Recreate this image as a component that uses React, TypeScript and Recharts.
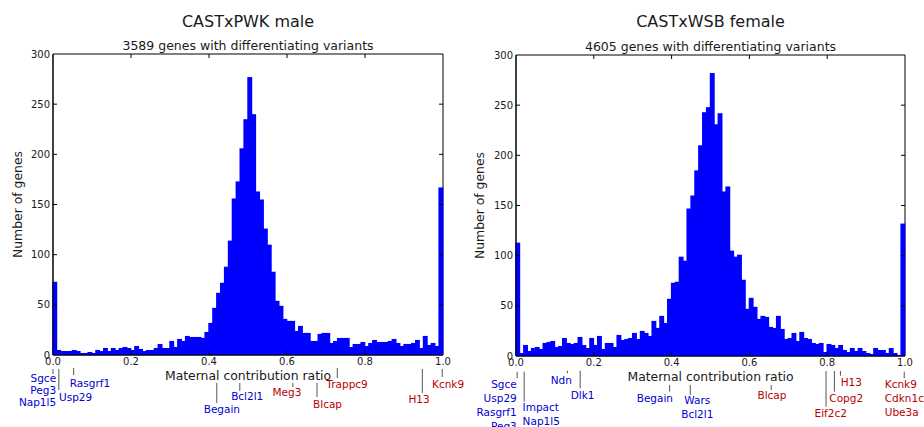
import React from "react";
import { Bar, ComposedChart, ReferenceArea, ReferenceDot, ReferenceLine, XAxis, YAxis } from "recharts";

// counts per 0.01 bin of maternal contribution ratio (0.00 .. 0.99)
const PWK_MALE_COUNTS = [
  73, 5, 4, 4, 4, 5, 4, 2, 2, 3,
  2, 5, 4, 7, 4, 7, 5, 7, 8, 7,
  5, 9, 6, 4, 5, 5, 7, 11, 7, 7,
  14, 8, 16, 14, 19, 18, 18, 18, 17, 23,
  32, 47, 62, 72, 88, 114, 156, 173, 206, 235,
  277, 240, 163, 155, 126, 110, 83, 54, 49, 36,
  34, 34, 24, 29, 22, 22, 14, 14, 21, 22,
  22, 12, 14, 17, 17, 17, 8, 11, 11, 13,
  9, 12, 15, 13, 13, 13, 14, 16, 12, 9,
  11, 11, 12, 15, 7, 19, 10, 12, 9, 167
];

const WSB_FEMALE_COUNTS = [
  113, 3, 11, 5, 8, 9, 7, 13, 14, 15,
  9, 10, 18, 13, 12, 13, 19, 11, 8, 18,
  11, 20, 7, 13, 13, 9, 21, 16, 17, 18,
  23, 17, 25, 23, 20, 35, 28, 40, 33, 57,
  73, 74, 99, 95, 147, 160, 185, 210, 243, 248,
  282, 231, 242, 164, 169, 105, 99, 101, 76, 47,
  58, 49, 37, 40, 39, 29, 28, 40, 27, 17,
  18, 23, 15, 24, 18, 17, 13, 12, 13, 4,
  12, 11, 8, 11, 6, 4, 8, 5, 8, 5,
  3, 2, 8, 6, 6, 3, 8, 3, 1, 132
];

// bin centres, 100 bins of width 0.01
const BIN_MIDS = PWK_MALE_COUNTS.map((_, i) => (i + 0.5) / 100);
const X_TICKS = [0, 0.2, 0.4, 0.6, 0.8, 1.0];
const Y_TICKS = [0, 50, 100, 150, 200, 250, 300];

// imprinted genes marked under each histogram (ratio of the gene)
const PWK_GENES = [
  { genes: ["Sgce", "Peg3", "Nap1l5"], ratio: 0.0 },
  { genes: ["Usp29"], ratio: 0.015 },
  { genes: ["Rasgrf1"], ratio: 0.053 },
  { genes: ["Begain"], ratio: 0.42 },
  { genes: ["Bcl2l1"], ratio: 0.479 },
  { genes: ["Meg3"], ratio: 0.615 },
  { genes: ["Blcap"], ratio: 0.677 },
  { genes: ["Trappc9"], ratio: 0.729 },
  { genes: ["H13"], ratio: 0.947 },
  { genes: ["Kcnk9"], ratio: 0.998 }
];

const WSB_GENES = [
  { genes: ["Sgce", "Usp29", "Rasgrf1", "Peg3"], ratio: 0.003 },
  { genes: ["Impact", "Nap1l5"], ratio: 0.021 },
  { genes: ["Ndn"], ratio: 0.132 },
  { genes: ["Dlk1"], ratio: 0.165 },
  { genes: ["Begain"], ratio: 0.395 },
  { genes: ["Wars", "Bcl2l1"], ratio: 0.448 },
  { genes: ["Blcap"], ratio: 0.656 },
  { genes: ["H13"], ratio: 0.834 },
  { genes: ["Copg2"], ratio: 0.8185 },
  { genes: ["Eif2c2"], ratio: 0.797 },
  { genes: ["Kcnk9", "Cdkn1c", "Ube3a"], ratio: 0.998 }
];

// label placement: line span and first text row in px below the axis, text x in ratio units
const PWK_PLACEMENT = [
  { line: [14, 19], at: 0.008, anchor: "end", row: 22.7 },
  { line: [14, 35], at: 0.0154, anchor: "start", row: 41.7 },
  { line: [13, 20], at: 0.043, anchor: "start", row: 28.3 },
  { line: [28, 48], at: 0.433, anchor: "middle", row: 54 },
  { line: [28, 36], at: 0.498, anchor: "middle", row: 41 },
  { line: [28, 32], at: 0.6, anchor: "middle", row: 37 },
  { line: [28, 42], at: 0.704, anchor: "middle", row: 49 },
  { line: [13, 23], at: 0.754, anchor: "middle", row: 29 },
  { line: [14, 38], at: 0.9385, anchor: "middle", row: 43.7 },
  { line: [14, 22], at: 1.013, anchor: "middle", row: 29 }
];

const WSB_PLACEMENT = [
  { line: [15.7, 22.3], at: 0.002, anchor: "end", row: 28.3 },
  { line: [15.7, 45.7], at: 0.017, anchor: "start", row: 50.7 },
  { line: [14.7, 17.3], at: 0.1165, anchor: "middle", row: 24 },
  { line: [14.7, 32.3], at: 0.171, anchor: "middle", row: 39.3 },
  { line: [29, 35.7], at: 0.357, anchor: "middle", row: 42.3 },
  { line: [29, 39], at: 0.466, anchor: "middle", row: 44 },
  { line: [29, 34], at: 0.658, anchor: "middle", row: 39 },
  { line: [15, 19.7], at: 0.862, anchor: "middle", row: 26.3 },
  { line: [15, 35.7], at: 0.849, anchor: "middle", row: 42.3 },
  { line: [15, 50.7], at: 0.809, anchor: "middle", row: 57.3 },
  { line: [15.7, 22.3], at: 0.948, anchor: "start", row: 28 }
];

const FONT = "'DejaVu Sans', sans-serif";
const INK = "#1a1a1a";
const BAR_BLUE = "#0000ff";
const LOW_COLOR = "#0000d0";
const HIGH_COLOR = "#b80000";
const TICK_PX = 4;

// widen each bar a little so neighbouring bins touch without seams
const HistBar = (p) =>
  p.height > 0 ? (
    <rect x={p.x - 0.7} y={p.y} width={p.width + 1.4} height={p.height} fill={BAR_BLUE} />
  ) : null;

function Histogram({ counts, tags, placement, rowGap, left, width, rightPad, top, yWidth, xHeight, title, subtitle }) {
  const height = 427;
  const plotH = height - top - xHeight;
  const plotW = width - yWidth - rightPad;
  const yUnits = (px) => (px * 300) / plotH;
  const xUnits = (px) => px / plotW;
  const rows = counts.map((count, i) => ({ mid: BIN_MIDS[i], count }));
  const cx = yWidth + plotW / 2;
  const bottom = top + plotH;

  const seg = (key, a, b) => (
    <ReferenceLine key={key} ifOverflow="visible" segment={[a, b]} stroke="#000" strokeWidth={1} />
  );

  return (
    <div style={{ position: "absolute", left, top: 0, width, height }}>
      <ComposedChart
        width={width}
        height={height}
        data={rows}
        margin={{ top, right: rightPad, bottom: 0, left: 0 }}
        barCategoryGap={0}
        barGap={0}
        style={{ fontFamily: FONT }}
      >
        <XAxis
          dataKey="mid"
          type="number"
          domain={[0, 1]}
          ticks={X_TICKS}
          interval={0}
          tickFormatter={(v) => v.toFixed(1)}
          height={xHeight}
          stroke="#000"
          tickLine={false}
          tickSize={0}
          tickMargin={3}
          tick={{ fontSize: 10, fill: INK, fontFamily: FONT }}
        />
        <YAxis
          domain={[0, 300]}
          ticks={Y_TICKS}
          interval={0}
          width={yWidth}
          stroke="#000"
          tickLine={false}
          tickSize={0}
          tickMargin={3}
          tick={{ fontSize: 10, fill: INK, fontFamily: FONT }}
        />
        <Bar dataKey="count" fill={BAR_BLUE} barSize={plotW / 100} shape={HistBar} isAnimationActive={false} />
        <ReferenceArea x1={0} x2={1} y1={0} y2={300} ifOverflow="visible" fill="none" stroke="#000" strokeWidth={1} />
        {X_TICKS.slice(1, -1).map((t) => [
          seg("xb" + t, { x: t, y: 0 }, { x: t, y: yUnits(TICK_PX) }),
          seg("xt" + t, { x: t, y: 300 }, { x: t, y: 300 - yUnits(TICK_PX) })
        ])}
        {Y_TICKS.slice(1, -1).map((t) => [
          seg("yl" + t, { x: 0, y: t }, { x: xUnits(TICK_PX), y: t }),
          seg("yr" + t, { x: 1, y: t }, { x: 1 - xUnits(TICK_PX), y: t })
        ])}
        {tags.map((tag, i) => {
          const p = placement[i];
          return (
            <ReferenceLine
              key={"l" + i}
              ifOverflow="visible"
              segment={[
                { x: tag.ratio, y: -yUnits(p.line[0]) },
                { x: tag.ratio, y: -yUnits(p.line[1]) }
              ]}
              stroke="#555"
              strokeWidth={1}
            />
          );
        })}
        {tags.flatMap((tag, i) => {
          const p = placement[i];
          const color = tag.ratio > 0.5 ? HIGH_COLOR : LOW_COLOR;
          return tag.genes.map((gene, j) => (
            <ReferenceDot
              key={"t" + i + "-" + j}
              x={p.at}
              y={-yUnits(p.row + j * rowGap)}
              r={0}
              ifOverflow="visible"
              shape={(d) => (
                <text
                  x={d.cx}
                  y={d.cy}
                  textAnchor={p.anchor}
                  dominantBaseline="central"
                  fill={color}
                  fontSize={10.5}
                  fontFamily={FONT}
                >
                  {gene}
                </text>
              )}
            />
          ));
        })}
      </ComposedChart>
      <svg
        width={width}
        height={height}
        style={{ position: "absolute", left: 0, top: 0, pointerEvents: "none" }}
        fontFamily={FONT}
        fill={INK}
      >
        <text x={cx} y={21} textAnchor="middle" dominantBaseline="central" fontSize={16}>
          {title}
        </text>
        <text x={cx} y={top - 9} textAnchor="middle" dominantBaseline="central" fontSize={12.5}>
          {subtitle}
        </text>
        <text
          x={17}
          y={top + plotH / 2}
          textAnchor="middle"
          dominantBaseline="central"
          fontSize={12.4}
          transform={`rotate(-90 17 ${top + plotH / 2})`}
        >
          Number of genes
        </text>
        <text x={cx} y={bottom + 20} textAnchor="middle" dominantBaseline="central" fontSize={12.4}>
          Maternal contribution ratio
        </text>
      </svg>
    </div>
  );
}

export default function App() {
  return (
    <div style={{ position: "relative", width: 924, height: 427, background: "#fff", overflow: "hidden" }}>
      <style>{"body{margin:0}"}</style>
      <Histogram
        counts={PWK_MALE_COUNTS}
        tags={PWK_GENES}
        placement={PWK_PLACEMENT}
        rowGap={12.3}
        left={0}
        width={480}
        rightPad={37}
        top={54}
        yWidth={53}
        xHeight={72}
        title="CASTxPWK male"
        subtitle="3589 genes with differentiating variants"
      />
      <Histogram
        counts={WSB_FEMALE_COUNTS}
        tags={WSB_GENES}
        placement={WSB_PLACEMENT}
        rowGap={13.8}
        left={462}
        width={462}
        rightPad={19}
        top={55}
        yWidth={54}
        xHeight={71}
        title="CASTxWSB female"
        subtitle="4605 genes with differentiating variants"
      />
    </div>
  );
}
